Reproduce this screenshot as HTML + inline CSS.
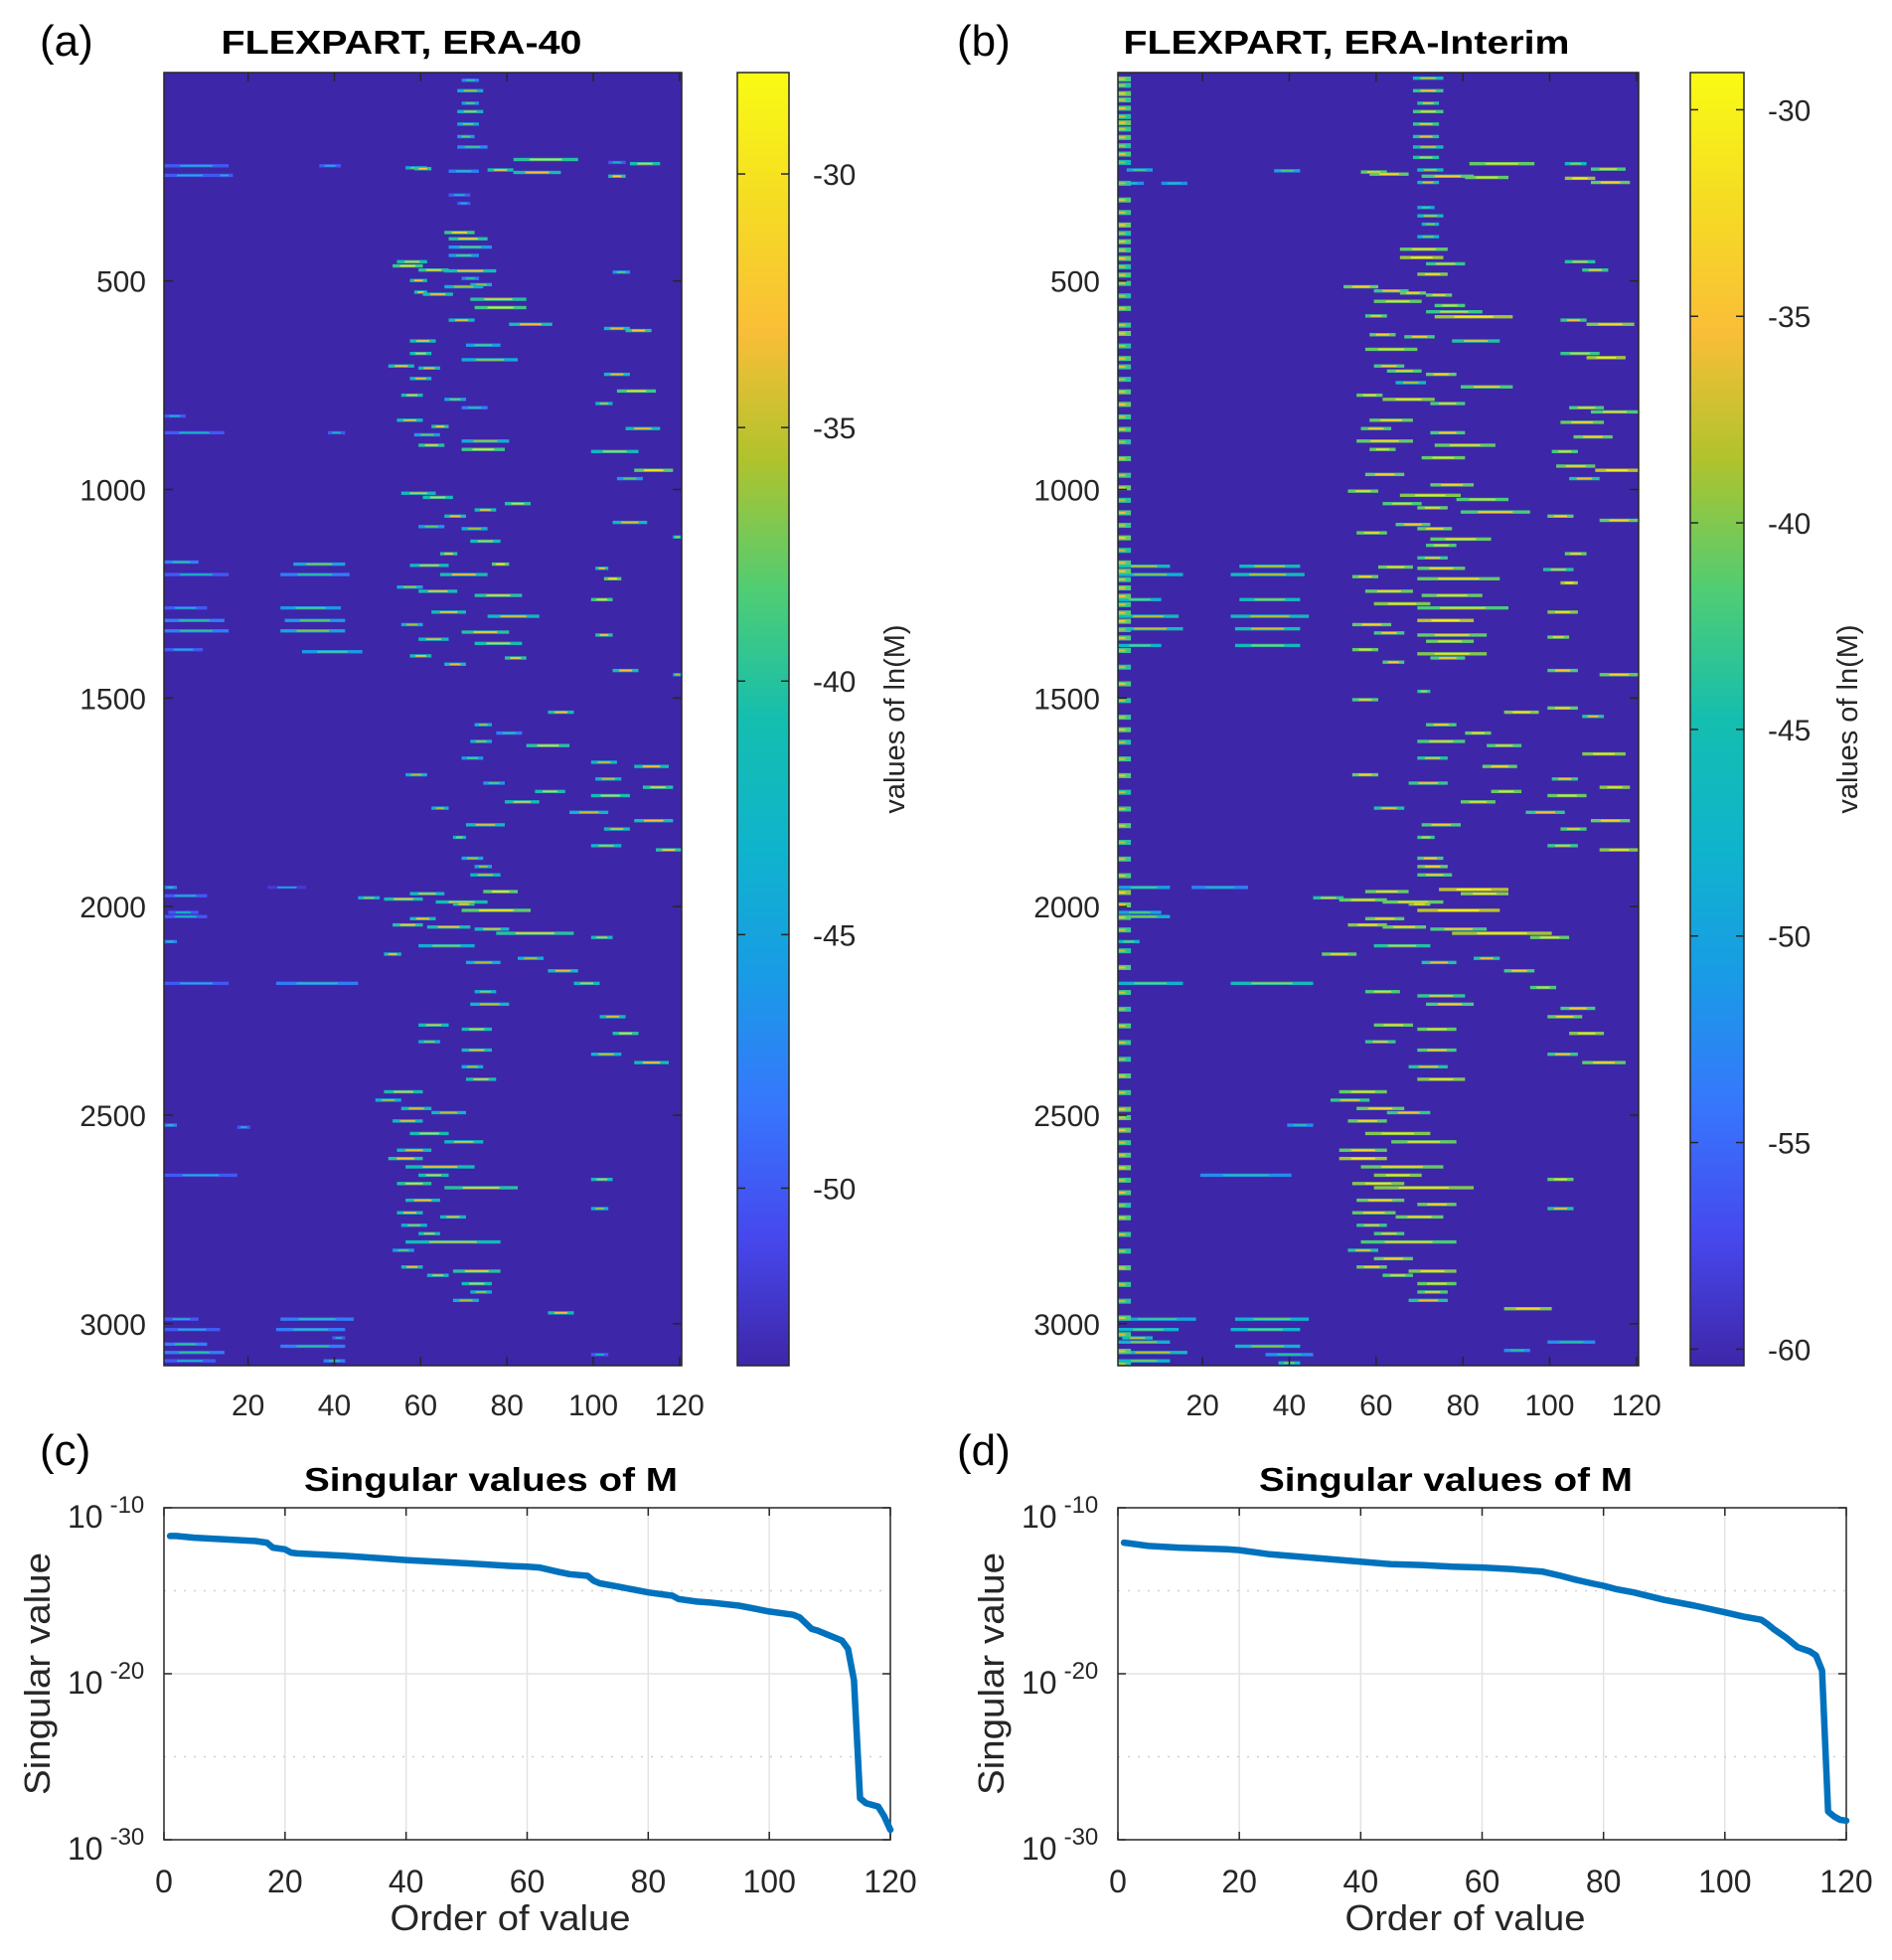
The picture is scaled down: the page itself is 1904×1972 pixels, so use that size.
<!DOCTYPE html>
<html><head><meta charset="utf-8"><style>
html,body{margin:0;padding:0;background:#fff;}
svg text{font-family:"Liberation Sans",sans-serif;}
</style></head><body>
<svg id="fig" width="1904" height="1967" viewBox="0 0 1904 1967" xmlns="http://www.w3.org/2000/svg">
<rect width="1904" height="1967" fill="#fff"/>
<g id="layer"></g>
</svg>
<script>
// ---------- DATA ----------
const colTicks = [20,40,60,80,100,120];
const rowTicks = [500,1000,1500,2000,2500,3000];
const cbTicksA = [-30,-35,-40,-45,-50];
const cbTicksB = [-30,-35,-40,-45,-50,-55,-60];
const rangeA = [-53.5,-28];
const rangeB = [-60.4,-29.1];
// segments: [row, colStart, colEnd, ln(M) value]
const segA = [[15,70,73,-40],[40,69,74,-36],[70,70,73,-38],[90,69,74,-35],[120,69,73,-37],[150,69,72,-38],[175,69,75,-39],
[205,82,96,-32],[212,104,107,-42],[215,109,115,-33],[220,1,15,-42],[220,37,41,-42],[225,57,61,-36],[227,59,62,-32],[230,76,81,-33],[233,67,73,-40],[236,82,92,-33],[245,104,107,-32],[243,1,12,-42],[243,13,16,-42],
[290,67,71,-42],[310,69,71,-42],[380,66,72,-31],[395,67,75,-32],[415,67,76,-38],[435,67,73,-38],[450,55,61,-33],[460,54,60,-31],[470,60,66,-32],[472,66,77,-33],[475,105,108,-38],[490,70,73,-40],[495,58,61,-33],[505,72,76,-36],[510,66,74,-36],[523,59,61,-33],[528,61,67,-33],[540,72,84,-32],[560,73,84,-31],[590,67,72,-34],[600,81,90,-33],[610,103,108,-34],[615,108,113,-32],[640,58,63,-33],[650,71,78,-38],[670,58,62,-33],[685,70,82,-36],[700,53,58,-33],[705,60,64,-34],[720,103,108,-34],[730,58,62,-34],[760,106,114,-31],[770,56,60,-33],[780,66,70,-37],[790,101,104,-35],[800,70,75,-40],[820,1,5,-42],[830,55,60,-34],[845,63,66,-32],[850,108,115,-34],[860,1,14,-42],[860,39,42,-42],[865,59,64,-38],[880,70,80,-36],[890,60,65,-32],[900,70,79,-31],[905,100,110,-34],[950,110,118,-30],[970,106,111,-38],[1005,56,63,-34],[1015,61,67,-33],[1030,80,85,-32],[1045,73,77,-33],[1060,66,70,-33],[1075,105,112,-34],[1085,60,65,-38],[1090,70,75,-36],[1110,119,120,-35],[1120,72,78,-34],[1150,65,68,-32],
[1170,1,8,-40],[1175,31,42,-37],[1175,77,80,-30],[1178,58,66,-34],[1185,101,103,-33],[1200,1,15,-42],[1200,28,43,-40],[1200,65,75,-33],[1210,103,106,-30],[1230,55,60,-36],[1240,60,68,-33],[1250,73,83,-32],[1260,100,104,-31],[1280,1,10,-42],[1280,28,41,-38],[1290,63,70,-33],[1300,76,87,-34],[1310,1,14,-40],[1310,29,42,-38],[1320,56,60,-36],[1335,1,15,-40],[1335,28,42,-37],[1338,70,80,-32],[1345,101,104,-32],[1355,60,66,-34],[1365,73,83,-33],[1380,1,9,-42],[1385,33,46,-38],[1395,58,62,-33],[1400,80,84,-32],[1415,66,70,-34],[1430,105,110,-33],[1440,119,120,-36],
[1530,90,95,-33],[1560,73,76,-36],[1580,78,83,-40],[1600,72,76,-36],[1610,85,94,-32],[1640,70,74,-38],[1650,100,105,-35],[1660,110,117,-33],[1680,57,61,-36],[1690,101,106,-35],[1700,75,79,-38],[1710,112,118,-32],[1720,87,93,-33],[1730,100,108,-33],[1745,80,87,-33],[1760,63,66,-36],[1770,95,103,-35],[1790,110,118,-33],[1800,71,79,-34],[1810,103,108,-34],[1830,68,70,-35],[1850,100,106,-35],[1860,115,120,-32],[1880,70,74,-36],[1900,73,76,-36],[1920,72,78,-35],
[1950,1,3,-40],[1950,25,33,-44],[1960,75,82,-30],[1965,58,65,-34],[1970,1,10,-42],[1975,46,50,-36],[1978,52,60,-33],[1985,64,75,-33],[1990,68,72,-32],[2005,70,85,-30],[2010,2,8,-42],[2020,1,10,-42],[2025,58,63,-33],[2040,54,60,-32],[2045,62,71,-33],[2050,73,80,-34],[2060,78,95,-32],[2070,100,104,-34],[2080,1,3,-40],[2090,60,72,-36],[2110,52,55,-33],[2120,83,88,-36],[2130,71,78,-36],[2150,90,96,-34],[2180,1,15,-42],[2180,27,45,-40],[2180,96,101,-34],[2200,73,77,-36],[2230,72,80,-35],[2260,102,107,-34],[2280,60,66,-34],[2290,70,76,-33],[2300,105,110,-32],[2320,60,64,-36],[2340,70,76,-34],[2350,100,106,-35],[2370,110,117,-33],[2380,70,74,-36],[2410,71,77,-33],[2440,52,60,-33],[2460,50,55,-36],[2480,56,62,-34],[2490,63,70,-35],[2510,54,60,-34],[2520,1,3,-40],[2525,18,20,-42],[2540,58,66,-33],[2560,66,74,-34],[2580,55,62,-34],[2600,53,60,-32],[2620,57,72,-33],[2640,1,17,-42],[2640,60,66,-33],[2650,100,104,-34],[2660,55,62,-32],[2670,66,82,-32],[2700,57,64,-33],[2720,100,103,-36],[2730,55,60,-33],[2740,65,70,-34],[2760,56,61,-36],[2780,60,64,-34],[2800,57,78,-34],[2820,54,58,-38],[2860,56,60,-33],[2870,68,78,-32],[2880,62,66,-34],[2900,70,76,-33],[2920,72,76,-36],[2940,68,73,-36],
[2970,90,95,-33],[2985,1,8,-42],[2985,28,44,-40],[3010,1,13,-42],[3010,27,42,-40],[3030,40,42,-42],[3045,1,10,-40],[3050,28,42,-40],[3065,1,14,-40],[3070,100,103,-42],[3085,1,12,-42],[3085,38,42,-40]];
const segB = [[10,69,75,-38],[40,69,75,-35],[70,70,74,-36],[90,69,75,-34],[120,69,74,-35],[150,69,74,-36],[175,69,75,-37],[200,69,74,-36],[230,70,75,-38],[260,70,74,-37],
[215,82,96,-33],[215,104,108,-38],[228,110,117,-34],[230,3,8,-42],[232,37,42,-42],[235,57,62,-33],[240,59,67,-33],[245,71,82,-34],[248,81,90,-33],[250,104,110,-31],[260,110,118,-33],[262,11,16,-44],[262,1,6,-44],
[320,70,73,-42],[340,70,75,-38],[360,71,74,-40],[390,70,74,-40],[420,66,76,-33],[440,66,75,-31],[455,72,80,-35],[480,70,76,-32],[450,104,110,-36],[470,108,113,-35],
[510,53,60,-33],[520,60,67,-35],[525,66,71,-33],[530,72,77,-33],[545,60,70,-33],[555,74,80,-34],[570,72,84,-35],[580,58,62,-34],[582,74,91,-31],[590,103,108,-35],[600,109,119,-32],
[625,59,64,-33],[630,67,73,-34],[640,78,88,-36],[660,58,69,-33],[670,103,111,-35],[680,109,117,-31],[700,60,66,-34],[712,63,70,-34],[720,72,78,-33],[740,65,71,-38],[750,80,91,-34],[770,56,61,-33],[780,62,73,-32],[790,73,80,-34],[800,105,112,-34],[810,110,120,-34],[830,59,68,-33],[835,103,112,-33],[850,57,63,-34],[860,73,80,-34],[870,106,114,-33],[880,56,68,-33],[890,74,87,-33],[900,59,64,-33],[905,101,106,-34],[920,71,80,-33],[940,102,110,-33],[950,111,120,-30],[960,58,66,-33],[970,105,111,-36],[985,73,82,-33],[1000,54,60,-33],[1010,66,79,-32],[1020,79,90,-34],[1030,62,70,-34],[1040,70,76,-33],[1050,80,95,-34],[1060,100,105,-33],[1070,112,120,-33],[1080,65,72,-34],[1090,70,77,-33],[1100,56,62,-33],[1115,73,86,-33],[1130,72,78,-34],[1150,104,108,-33],[1160,70,76,-35],
[1180,1,12,-38],[1180,29,42,-38],[1182,61,68,-33],[1185,70,80,-33],[1188,99,105,-36],[1200,1,15,-40],[1200,27,43,-38],[1205,55,60,-33],[1210,70,88,-33],[1220,103,106,-31],[1240,58,68,-33],[1250,71,84,-33],[1260,1,10,-40],[1260,29,42,-38],[1270,60,72,-32],[1280,70,90,-34],[1290,100,106,-32],[1300,1,14,-38],[1300,27,44,-38],[1310,70,82,-30],[1320,55,63,-33],[1330,1,15,-38],[1330,28,42,-37],[1340,60,66,-34],[1345,70,85,-33],[1350,100,104,-33],[1360,72,82,-33],[1370,1,10,-40],[1370,28,42,-38],[1380,55,60,-33],[1390,70,85,-32],[1400,73,80,-34],[1410,62,66,-34],[1430,100,106,-34],[1440,112,120,-33],
[1480,70,72,-36],[1500,55,60,-34],[1520,100,106,-33],[1530,90,97,-32],[1540,108,112,-36],[1560,72,78,-34],[1580,81,86,-33],[1600,70,80,-34],[1610,86,93,-34],[1630,108,117,-32],[1640,70,76,-36],[1660,85,92,-33],[1680,55,60,-33],[1690,101,106,-35],[1700,68,76,-35],[1710,112,118,-32],[1720,87,93,-33],[1730,100,108,-33],[1745,80,87,-33],[1760,60,66,-36],[1770,95,103,-35],[1790,110,118,-33],[1800,71,79,-34],[1810,103,108,-34],[1830,70,73,-35],[1850,100,106,-35],[1860,112,120,-32],[1880,70,75,-34],[1900,70,76,-33],[1920,70,77,-34],
[1950,1,12,-42],[1950,18,30,-45],[1955,75,90,-30],[1960,58,67,-33],[1965,80,90,-32],[1975,46,52,-36],[1980,52,62,-33],[1985,62,75,-33],[1990,68,72,-32],[2005,70,88,-30],[2010,1,10,-42],[2020,1,12,-40],[2025,58,66,-33],[2040,54,62,-32],[2045,62,71,-33],[2050,73,85,-34],[2060,78,100,-31],[2070,96,104,-33],[2080,1,5,-40],[2090,60,72,-36],[2110,48,55,-33],[2120,83,88,-36],[2130,71,78,-36],[2150,90,96,-34],
[2180,1,15,-40],[2180,27,45,-38],[2190,96,101,-34],[2200,58,65,-34],[2210,70,80,-35],[2230,72,82,-34],[2240,103,110,-34],[2260,100,107,-33],[2280,60,68,-33],[2290,70,78,-33],[2300,105,112,-32],[2320,58,64,-35],[2340,70,78,-34],[2350,100,106,-35],[2370,108,117,-33],[2380,68,76,-36],[2410,70,80,-32],[2440,52,62,-33],[2460,50,58,-35],[2480,56,66,-33],[2490,63,72,-35],[2510,54,62,-33],[2520,40,45,-44],[2540,58,72,-32],[2560,64,78,-33],[2580,52,62,-33],[2600,52,62,-31],[2620,57,75,-33],[2640,20,40,-44],[2640,60,70,-32],[2650,100,105,-33],[2660,55,66,-32],[2670,60,82,-32],[2700,56,66,-33],[2710,70,78,-33],[2720,100,105,-36],[2730,55,64,-33],[2740,65,75,-33],[2760,56,62,-35],[2780,60,66,-34],[2800,57,78,-34],[2820,54,60,-36],[2840,60,68,-33],[2860,56,62,-33],[2870,68,78,-32],[2880,62,68,-34],[2900,70,78,-33],[2920,70,76,-34],[2940,68,76,-36],[2960,90,100,-32],
[2985,1,18,-42],[2985,28,44,-40],[3010,1,14,-40],[3010,27,42,-40],[3030,2,8,-38],[3040,1,12,-40],[3050,28,42,-40],[3065,1,16,-38],[3070,35,45,-44],[3085,1,12,-40],[3090,38,42,-40],[3040,100,110,-44],[3060,90,95,-44]];
// left strip of panel (b): [row, value], columns 1-3
const leftB = [[10,-36],[25,-38],[45,-35],[60,-37],[80,-36],[100,-38],[115,-35],[130,-37],[150,-36],[170,-38],[190,-36],[210,-40],[260,-38],[300,-36],[330,-37],[360,-35],[380,-38],[400,-36],[420,-37],[440,-35],[460,-38],[480,-36],[500,-37],[530,-38],[560,-36],[600,-37],[620,-35],[650,-38],[680,-36],[700,-37],[730,-38],[760,-36],[790,-35],[820,-37],[850,-36],[880,-38],[920,-36],[960,-37],[990,-35],[1020,-38],[1050,-36],[1080,-37],[1110,-35],[1140,-38],[1170,-36],[1190,-35],[1210,-37],[1230,-36],[1250,-35],[1270,-37],[1290,-36],[1310,-35],[1330,-38],[1350,-36],[1380,-37],[1420,-38],[1460,-36],[1500,-38],[1540,-37],[1570,-36],[1600,-38],[1640,-37],[1680,-36],[1720,-38],[1760,-37],[1800,-36],[1840,-38],[1880,-37],[1920,-36],[1960,-34],[1990,-35],[2020,-36],[2050,-37],[2100,-38],[2140,-36],[2200,-37],[2240,-38],[2280,-36],[2320,-37],[2360,-38],[2400,-36],[2440,-37],[2480,-35],[2500,-36],[2530,-35],[2560,-37],[2590,-36],[2620,-35],[2650,-37],[2680,-36],[2710,-38],[2740,-36],[2780,-37],[2820,-38],[2860,-36],[2900,-37],[2940,-38],[2980,-36],[3020,-37],[3060,-36],[3090,-38]];
// singular values (log10)
const ordC = [1,2,5,10,15,17,18,20,21,22,30,40,50,57,60,62,65,67,70,71,72,75,80,84,85,88,90,95,100,104,105,107,108,110,112,113,114,115,116,118,119,120];
const expC = [-11.7,-11.7,-11.8,-11.9,-12.0,-12.1,-12.4,-12.5,-12.7,-12.75,-12.9,-13.15,-13.35,-13.5,-13.55,-13.6,-13.85,-14.0,-14.1,-14.4,-14.55,-14.75,-15.1,-15.3,-15.5,-15.65,-15.7,-15.9,-16.25,-16.45,-16.6,-17.3,-17.4,-17.7,-18.0,-18.5,-20.4,-27.5,-27.8,-28.0,-28.6,-29.4];
const ordD = [1,2,5,10,18,20,25,30,40,45,50,55,60,65,70,73,75,78,80,82,85,90,95,100,103,106,107,108,110,112,114,115,116,117,118,119,120];
const expD = [-12.1,-12.15,-12.3,-12.4,-12.5,-12.55,-12.8,-12.95,-13.25,-13.4,-13.45,-13.55,-13.6,-13.7,-13.85,-14.1,-14.3,-14.55,-14.7,-14.9,-15.1,-15.55,-15.9,-16.3,-16.55,-16.75,-17.0,-17.3,-17.8,-18.4,-18.65,-18.9,-19.8,-28.3,-28.6,-28.8,-28.85];
const lineXTicks = [0,20,40,60,80,100,120];
const lineYTicks = [-10,-20,-30];

// ---------- helpers ----------
const NS='http://www.w3.org/2000/svg';
const layer=document.getElementById('layer');
function el(tag,attrs,parent){const e=document.createElementNS(NS,tag);for(const k in attrs)e.setAttribute(k,attrs[k]);(parent||layer).appendChild(e);return e;}
const PAR=[[0,[62,38,168]],[0.1,[70,72,238]],[0.2,[55,118,253]],[0.3,[25,155,230]],[0.4,[15,180,205]],[0.5,[20,190,175]],[0.6,[80,205,115]],[0.7,[175,195,45]],[0.8,[250,190,55]],[0.9,[245,220,35]],[1,[249,251,20]]];
function parula(t){t=Math.max(0,Math.min(1,t));for(let i=1;i<PAR.length;i++){if(t<=PAR[i][0]){const a=PAR[i-1],b=PAR[i];const f=(t-a[0])/(b[0]-a[0]);return 'rgb('+a[1].map((v,j)=>Math.round(v+(b[1][j]-v)*f)).join(',')+')';}}return 'rgb(249,251,20)';}
const defs=el('defs',{});
const grad=el('linearGradient',{id:'par',x1:0,y1:1,x2:0,y2:0},defs);
PAR.forEach(p=>el('stop',{offset:p[0],'stop-color':'rgb('+p[1].join(',')+')'},grad));

function heatmap(name,X0,X1,Y0,Y1,segs,left,range,cbX0,cbX1,cbTicks,title,titleX,titleLen,letter,letterX,cbLabelX){
  const g=el('g',{});
  
  
  const xs=c=>X0+(c-0.5)/120*(X1-X0);
  const ys=r=>Y0+(r-0.5)/3100*(Y1-Y0);
  const nv=v=>(v-range[0])/(range[1]-range[0]);
  const bg=el('rect',{x:X0,y:Y0,width:X1-X0,height:Y1-Y0,fill:parula(0)},g);
  
  
  const H=8;
  segs.forEach(s=>{
    const x=xs(s[1]-0.5),w=xs(s[2]+0.5)-x,y=ys(s[0]),h=ys(s[0]+H)-y;
    const r=el('rect',{x:x,y:y,width:w,height:h,fill:parula(nv(s[3]-8))},g);
    
    
    if(w>6){el('rect',{x:x+w*0.25,y:y+h*0.25,width:w*0.5,height:h*0.5,fill:parula(nv(s[3]))},g);}
  });
  (left||[]).forEach(s=>{
    const x=xs(0.5),w=xs(3.5)-x,y=ys(s[0]),h=ys(s[0]+12)-y;
    const r=el('rect',{x:x,y:y,width:w,height:h,fill:parula(nv(s[1]-6))},g);
    
    
    el('rect',{x:x+1,y:y+h*0.3,width:w*0.5,height:h*0.4,fill:parula(nv(s[1]))},g);
  });
  el('rect',{x:X0,y:Y0,width:X1-X0,height:Y1-Y0,fill:'none',stroke:'#262626','stroke-width':1.5},g);
  colTicks.forEach(c=>{const x=xs(c);
    el('line',{x1:x,y1:Y1,x2:x,y2:Y1-9,stroke:'#262626','stroke-width':1.5},g);
    el('line',{x1:x,y1:Y0,x2:x,y2:Y0+9,stroke:'#262626','stroke-width':1.5},g);
    const t=el('text',{x:x,y:Y1+50,'font-size':30,fill:'#262626','text-anchor':'middle'},g);t.textContent=c;
    });
  rowTicks.forEach(r=>{const y=ys(r);
    el('line',{x1:X0,y1:y,x2:X0+9,y2:y,stroke:'#262626','stroke-width':1.5},g);
    el('line',{x1:X1,y1:y,x2:X1-9,y2:y,stroke:'#262626','stroke-width':1.5},g);
    const t=el('text',{x:X0-18,y:y+11,'font-size':30,fill:'#262626','text-anchor':'end'},g);t.textContent=r;
    });
  const tt=el('text',{x:titleX,y:54,'font-size':33,'font-weight':'bold',fill:'#000','text-anchor':'middle',textLength:titleLen,lengthAdjust:'spacingAndGlyphs'},g);tt.textContent=title;
  
  const lt=el('text',{x:letterX,y:56,'font-size':44,fill:'#000'},g);lt.textContent=letter;
  
  // colorbar
  const cb=el('g',{},g);
  
  
  el('rect',{x:cbX0,y:Y0,width:cbX1-cbX0,height:Y1-Y0,fill:'url(#par)',stroke:'#262626','stroke-width':1.5},cb);
  const cy=v=>Y1-(v-range[0])/(range[1]-range[0])*(Y1-Y0);
  cbTicks.forEach(v=>{const y=cy(v);
    el('line',{x1:cbX1,y1:y,x2:cbX1-8,y2:y,stroke:'#262626','stroke-width':1.5},cb);
    el('line',{x1:cbX0,y1:y,x2:cbX0+8,y2:y,stroke:'#262626','stroke-width':1.5},cb);
    const t=el('text',{x:cbX1+24,y:y+11,'font-size':30,fill:'#262626'},cb);t.textContent=v;
    });
  const cl=el('text',{x:cbLabelX,y:(Y0+Y1)/2,'font-size':29,fill:'#262626','text-anchor':'middle',transform:'rotate(-90 '+cbLabelX+' '+((Y0+Y1)/2)+')'},cb);
  cl.textContent='values of ln(M)';
  
}
heatmap('heatmap-era40',165,686,73,1374,segA,null,rangeA,742,794,cbTicksA,'FLEXPART, ERA-40',404,363,'(a)',40,910);
heatmap('heatmap-erainterim',1125,1649,73,1374,segB,leftB,rangeB,1701,1755,cbTicksB,'FLEXPART, ERA-Interim',1355,449,'(b)',963,1869);

function linePlot(name,X0,X1,Y0,Y1,ord,ex,letter,letterX,titleX){
  const g=el('g',{});
  
  
  const xs=v=>X0+v/120*(X1-X0);
  const ys=e=>Y0+(-10-e)/20*(Y1-Y0);
  lineXTicks.forEach(v=>{if(v>0&&v<120)el('line',{x1:xs(v),y1:Y0,x2:xs(v),y2:Y1,stroke:'#e3e3e3','stroke-width':1.5},g);});
  el('line',{x1:X0,y1:ys(-20),x2:X1,y2:ys(-20),stroke:'#e3e3e3','stroke-width':1.5},g);
  [-15,-25].forEach(e=>el('line',{x1:X0,y1:ys(e),x2:X1,y2:ys(e),stroke:'#cfcfcf','stroke-width':1.5,'stroke-dasharray':'2 8'},g));
  el('rect',{x:X0,y:Y0,width:X1-X0,height:Y1-Y0,fill:'none',stroke:'#262626','stroke-width':1.5},g);
  lineXTicks.forEach(v=>{const x=xs(v);
    el('line',{x1:x,y1:Y1,x2:x,y2:Y1-8,stroke:'#262626','stroke-width':1.5},g);
    el('line',{x1:x,y1:Y0,x2:x,y2:Y0+8,stroke:'#262626','stroke-width':1.5},g);
    const t=el('text',{x:x,y:Y1+53,'font-size':32,fill:'#262626','text-anchor':'middle'},g);t.textContent=v;
    });
  lineYTicks.forEach(e=>{const y=ys(e);
    el('line',{x1:X0,y1:y,x2:X0+8,y2:y,stroke:'#262626','stroke-width':1.5},g);
    el('line',{x1:X1,y1:y,x2:X1-8,y2:y,stroke:'#262626','stroke-width':1.5},g);
    const t=el('text',{x:X0-97,y:y+20,'font-size':32,fill:'#262626'},g);
    
    const a=el('tspan',{},t);a.textContent='10';
    const b=el('tspan',{dx:7,dy:-15,'font-size':24},t);b.textContent=String(e);});
  const pts=ord.map((o,i)=>xs(o).toFixed(1)+','+ys(ex[i]).toFixed(1)).join(' ');
  const pl=el('polyline',{points:pts,fill:'none',stroke:'#0072BD','stroke-width':6.5,'stroke-linejoin':'round','stroke-linecap':'round'},g);
  
  
  const tt=el('text',{x:titleX,y:1500,'font-size':33,'font-weight':'bold',fill:'#000','text-anchor':'middle',textLength:376,lengthAdjust:'spacingAndGlyphs'},g);tt.textContent='Singular values of M';
  
  const lt=el('text',{x:letterX,y:1474,'font-size':44,fill:'#000'},g);lt.textContent=letter;
  
  const xl=el('text',{x:(X0+X1)/2-17,y:1942,'font-size':36,fill:'#262626','text-anchor':'middle',textLength:242,lengthAdjust:'spacingAndGlyphs'},g);xl.textContent='Order of value';
  
  const ly=(Y0+Y1)/2,lx=X0-115;
  const yl=el('text',{x:lx,y:ly,'font-size':36,fill:'#262626','text-anchor':'middle',textLength:244,lengthAdjust:'spacingAndGlyphs',transform:'rotate(-90 '+lx+' '+ly+')'},g);yl.textContent='Singular value';
  
}
linePlot('singular-values-era40',165,896,1517,1851,ordC,expC,'(c)',40,494);
linePlot('singular-values-erainterim',1125,1858,1517,1851,ordD,expD,'(d)',963,1455);
</script>
</body></html>
